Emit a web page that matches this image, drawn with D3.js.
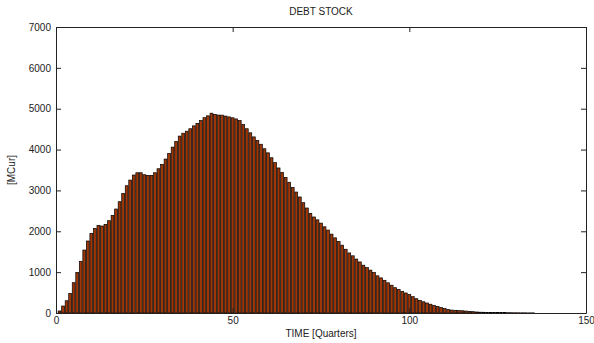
<!DOCTYPE html>
<html>
<head>
<meta charset="utf-8">
<script src="https://cdn.jsdelivr.net/npm/d3@7"></script>
<style>
  html, body { margin: 0; padding: 0; background: #fff; }
  svg text { font-family: "Liberation Sans", Arial, sans-serif; fill: #222; }
</style>
</head>
<body>
<svg id="chart" width="594" height="343"></svg>
<script>
// Debt stock per quarter, in MCur
const quarters = d3.range(1, 151);
const debtStock = [
  50, 171, 300, 480, 742, 995, 1265, 1541, 1762, 1950,
  2072, 2146, 2129, 2170, 2259, 2390, 2545, 2724, 2929, 3115,
  3254, 3377, 3433, 3433, 3384, 3369, 3369, 3433, 3531, 3638,
  3768, 3907, 4060, 4200, 4330, 4400, 4450, 4510, 4580, 4640,
  4710, 4780, 4825, 4890, 4862, 4845, 4843, 4820, 4800, 4778,
  4750, 4710, 4610, 4510, 4410, 4310, 4220, 4130, 4020, 3920,
  3800, 3680, 3550, 3440, 3320, 3200, 3070, 2960, 2840, 2700,
  2570, 2440, 2350, 2280, 2200, 2110, 2030, 1930, 1840, 1750,
  1660, 1560, 1470, 1400, 1320, 1250, 1170, 1110, 1050, 990,
  910, 860, 800, 740, 680, 620, 575, 530, 490, 450,
  400, 350, 310, 275, 245, 215, 185, 160, 135, 110,
  88, 72, 65, 58, 55, 48, 40, 33, 25, 20,
  18, 16, 14, 12, 11, 10, 9, 8, 7, 6,
  5, 5, 4, 3, 3, 0, 0, 0, 0, 0,
  0, 0, 0, 0, 0, 0, 0, 0, 0, 0
];
const xTicks = [0, 50, 100, 150];
const yTicks = [0, 1000, 2000, 3000, 4000, 5000, 6000, 7000];

const titleText = "DEBT STOCK";
const xLabel = "TIME [Quarters]";
const yLabel = "[MCur]";

const plot = { left: 56, right: 586, top: 27, bottom: 313 };
const barFrac = 0.8;

const svg = d3.select("#chart");

const x = d3.scaleLinear().domain([0, 150]).range([plot.left, plot.right]);
const y = d3.scaleLinear().domain([0, 7000]).range([plot.bottom, plot.top]);

const clip = svg.append("clipPath").attr("id", "plotClip")
  .append("rect")
  .attr("x", plot.left).attr("y", plot.top)
  .attr("width", plot.right - plot.left).attr("height", plot.bottom - plot.top);

// bars
svg.append("g")
  .attr("clip-path", "url(#plotClip)")
  .selectAll("rect")
  .data(quarters.map((q, i) => ({ q, v: debtStock[i] })))
  .join("rect")
  .attr("x", d => x(d.q - barFrac / 2))
  .attr("width", d => x(d.q + barFrac / 2) - x(d.q - barFrac / 2))
  .attr("y", d => y(d.v))
  .attr("height", d => y(0) - y(d.v))
  .attr("fill", "#9e3606")
  .attr("stroke", "#000")
  .attr("stroke-width", 0.7);

// axes with inward ticks on all four sides
const tickLen = 5;
function styleAxis(g) {
  g.selectAll(".domain").attr("stroke", "#222").attr("stroke-width", 1);
  g.selectAll(".tick line").attr("stroke", "#222");
  g.selectAll(".tick text").attr("font-size", 10).attr("fill", "#222")
    .attr("font-family", "Liberation Sans, Arial, sans-serif");
}

svg.append("g")
  .attr("transform", `translate(0,${plot.bottom})`)
  .call(d3.axisBottom(x).tickValues(xTicks).tickFormat(d3.format("d"))
    .tickSizeInner(-tickLen).tickSizeOuter(0).tickPadding(4))
  .call(styleAxis);

svg.append("g")
  .attr("transform", `translate(0,${plot.top})`)
  .call(d3.axisTop(x).tickValues(xTicks).tickFormat("")
    .tickSizeInner(-tickLen).tickSizeOuter(0))
  .call(styleAxis);

svg.append("g")
  .attr("transform", `translate(${plot.left},0)`)
  .call(d3.axisLeft(y).tickValues(yTicks).tickFormat(d3.format("d"))
    .tickSizeInner(-tickLen).tickSizeOuter(0).tickPadding(5))
  .call(styleAxis);

svg.append("g")
  .attr("transform", `translate(${plot.right},0)`)
  .call(d3.axisRight(y).tickValues(yTicks).tickFormat("")
    .tickSizeInner(-tickLen).tickSizeOuter(0))
  .call(styleAxis);

// title and axis labels
svg.append("text")
  .attr("x", (plot.left + plot.right) / 2).attr("y", 15)
  .attr("text-anchor", "middle").attr("font-size", 10)
  .text(titleText);

svg.append("text")
  .attr("x", (plot.left + plot.right) / 2).attr("y", 337)
  .attr("text-anchor", "middle").attr("font-size", 10)
  .text(xLabel);

svg.append("text")
  .attr("transform", `translate(15,${(plot.top + plot.bottom) / 2}) rotate(-90)`)
  .attr("text-anchor", "middle").attr("font-size", 10)
  .text(yLabel);
</script>
</body>
</html>
